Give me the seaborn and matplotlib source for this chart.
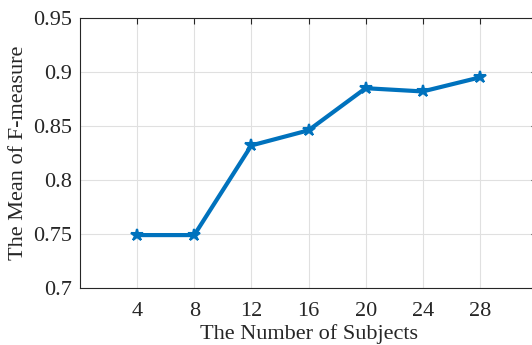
import numpy as np
import pandas as pd
import matplotlib
matplotlib.use('Agg')
import matplotlib.pyplot as plt
import seaborn as sns

# Data
subjects = [4, 8, 12, 16, 20, 24, 28]
f_measure = [0.749, 0.749, 0.832, 0.846, 0.885, 0.882, 0.895]
x_ticks = [4, 8, 12, 16, 20, 24, 28]
y_ticks = [0.7, 0.75, 0.8, 0.85, 0.9, 0.95]
y_tick_labels = ['0.7', '0.75', '0.8', '0.85', '0.9', '0.95']

df = pd.DataFrame({'subjects': subjects, 'f_measure': f_measure})

sns.set_theme(style="white")
plt.rcParams['font.family'] = ['Liberation Serif', 'DejaVu Serif']

fig = plt.figure(figsize=(5.32, 3.45), dpi=100)
# right edge sits just past the figure, as in the cropped reference
ax = fig.add_axes([80 / 532, 1 - 288 / 345, (537 - 80) / 532, (288 - 18) / 345])

sns.lineplot(ax=ax, data=df, x='subjects', y='f_measure', color='#0072BD',
             linewidth=3, marker='*', markersize=9, markeredgewidth=1.5,
             markeredgecolor='#0072BD')

ax.set_xlim(0, 32)
ax.set_ylim(0.7, 0.95)
ax.set_xticks(x_ticks)
ax.set_yticks(y_ticks)
ax.set_yticklabels(y_tick_labels)
ax.grid(True, color='#e0e0e0', linewidth=0.8)
ax.set_axisbelow(True)

for side in ['left', 'bottom', 'top', 'right']:
    ax.spines[side].set_color('#262626')
    ax.spines[side].set_linewidth(0.8)

ax.tick_params(axis='y', direction='in', length=4, width=0.8, color='#262626',
               labelsize=16, labelcolor='#262626', right=True, pad=6)
ax.tick_params(axis='x', direction='in', length=4, width=0.8, color='#262626',
               labelsize=16, labelcolor='#262626', top=True, pad=10)

ax.set_xlabel('The Number of Subjects', fontsize=16, color='#262626', labelpad=2)
ax.set_ylabel('The Mean of F-measure', fontsize=16, color='#262626', labelpad=3)

fig.savefig('out.png', dpi=100)
